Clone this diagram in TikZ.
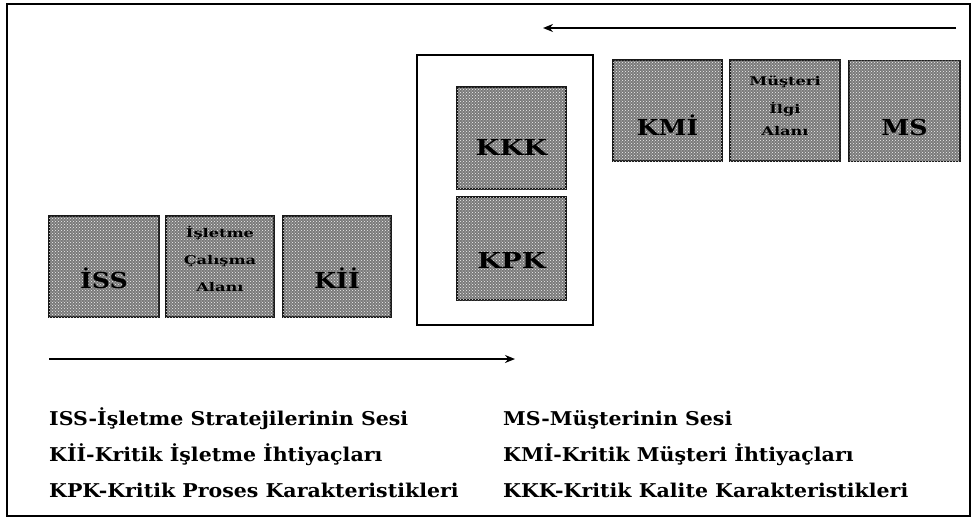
\documentclass[tikz,border=0pt]{standalone}
\usepackage{fontspec}
\setmainfont{DejaVu Serif}
\usetikzlibrary{patterns,arrows.meta,calc}
\newcommand{\wideA}[1]{\scalebox{1.35}[1]{#1}}
\newcommand{\wideB}[1]{\scalebox{1.08}[1]{#1}}
\newcommand{\wideC}[1]{\scalebox{1.15}[1]{#1}}
\begin{document}
\begin{tikzpicture}[x=1pt,y=-1pt,
  gbox/.style={draw=black!90, line width=1.6pt, fill=black!52,
    postaction={pattern=crosshatch dots, pattern color=white!90!gray},
    minimum height=101pt, inner sep=0pt},
  big/.style={font=\bfseries\fontsize{22}{22}\selectfont, inner sep=0pt, anchor=base},
  small/.style={font=\bfseries\fontsize{12}{12}\selectfont, inner sep=0pt, anchor=base},
  leg/.style={font=\bfseries\fontsize{19}{19}\selectfont, inner sep=0pt, anchor=base west},
  flow/.style={line width=1.6pt, -{Stealth[length=10pt,width=8pt]}}]
\useasboundingbox (0,0) rectangle (976,520);
\draw[line width=2pt] (7,4) rectangle (970,516);
% left boxes
\node[gbox, minimum width=110pt] (ISS) at (104,266.5) {};
\node[gbox, minimum width=108pt] (ICA) at (220,266.5) {};
\node[gbox, minimum width=108pt] (KII) at (337,266.5) {};
% central frame
\node[draw, line width=1.4pt, minimum width=176pt, minimum height=270pt, inner sep=0pt] (frame) at (505,190) {};
\node[gbox, minimum width=109pt, minimum height=102pt] (KKK) at (511.5,138) {};
\node[gbox, minimum width=109pt, minimum height=103pt] (KPK) at (511.5,248.5) {};
% right boxes
\node[gbox, minimum width=109pt] (KMI) at (667.5,110.5) {};
\node[gbox, minimum width=110pt] (MIA) at (785,110.5) {};
\node[gbox, minimum width=111pt] (MS) at (904.5,111) {};
% labels
\node[big] (tISS) at ($(ISS.center)+(0,21.5)$) {\wideC{İSS}};
\node[small] (tICA1) at ($(ICA.center)+(0,-29.5)$) {\wideA{İşletme}};
\node[small] (tICA2) at ($(ICA.center)+(0,-2.5)$) {\wideA{Çalışma}};
\node[small] (tICA3) at ($(ICA.center)+(0,24.5)$) {\wideA{Alanı}};
\node[big] (tKII) at ($(KII.center)+(0,21.5)$) {\wideC{Kİİ}};
\node[big] (tKKK) at ($(KKK.center)+(0,17)$) {\scalebox{1.25}[1]{KKK}};
\node[big] (tKPK) at ($(KPK.center)+(0,19.5)$) {\scalebox{1.25}[1]{KPK}};
\node[big] (tKMI) at ($(KMI.center)+(0,24.5)$) {\wideC{KMİ}};
\node[small] (tMIA1) at ($(MIA.center)+(0,-25.5)$) {\wideA{Müşteri}};
\node[small] (tMIA2) at ($(MIA.center)+(0,2.5)$) {\wideA{İlgi}};
\node[small] (tMIA3) at ($(MIA.center)+(0,24.5)$) {\wideA{Alanı}};
\node[big] (tMS) at ($(MS.center)+(0,24)$) {\wideC{MS}};
% arrows
\coordinate (a1s) at (956,28);
\coordinate (a1e) at (543,28);
\coordinate (a2s) at (49,359);
\coordinate (a2e) at (515,359);
\draw[flow] (a1s) -- (a1e);
\draw[flow] (a2s) -- (a2e);
% legend
\node[leg] (l1) at (49,425) {\wideB{ISS-İşletme Stratejilerinin Sesi}};
\node[leg] (l2) at (49,461) {\wideB{Kİİ-Kritik İşletme İhtiyaçları}};
\node[leg] (l3) at (49,497) {\wideB{KPK-Kritik Proses Karakteristikleri}};
\node[leg] (r1) at (503,425) {\wideB{MS-Müşterinin Sesi}};
\node[leg] (r2) at (503,461) {\wideB{KMİ-Kritik Müşteri İhtiyaçları}};
\node[leg] (r3) at (503,497) {\wideB{KKK-Kritik Kalite Karakteristikleri}};
\end{tikzpicture}
\end{document}
